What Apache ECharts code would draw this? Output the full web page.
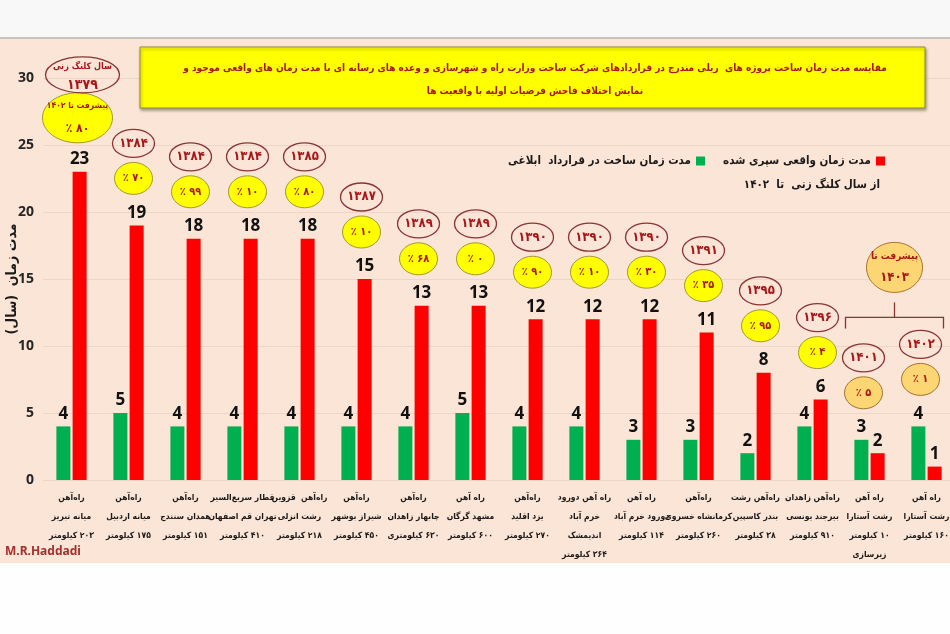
<!DOCTYPE html>
<html>
<head>
<meta charset="utf-8">
<script src="https://cdn.jsdelivr.net/npm/echarts@6/dist/echarts.min.js"></script>
<style>
html,body{margin:0;padding:0;background:#fefefe;}
#c{width:950px;height:634px;}
</style>
</head>
<body>
<div id="c"></div>
<script>
// ---- data ----
const categories = [
  'راه‌آهن\nمیانه تبریز\n۲۰۳ کیلومتر',
  'راه‌آهن\nمیانه اردبیل\n۱۷۵ کیلومتر',
  'راه‌آهن\nهمدان سنندج\n۱۵۱ کیلومتر',
  'قطار سریع‌السیر\nتهران قم اصفهان\n۴۱۰ کیلومتر',
  'راه‌آهن  قزوین\nرشت انزلی\n۲۱۸ کیلومتر',
  'راه‌آهن\nشیراز بوشهر\n۴۵۰ کیلومتر',
  'راه‌آهن\nچابهار زاهدان\n۶۳۰ کیلومتری',
  'راه آهن\nمشهد گرگان\n۶۰۰ کیلومتر',
  'راه‌آهن\nیزد اقلید\n۲۷۰ کیلومتر',
  'راه آهن دورود\nخرم آباد\nاندیمشک\n۳۶۴ کیلومتر',
  'راه آهن\nدورود خرم آباد\n۱۱۴ کیلومتر',
  'راه‌آهن\nکرمانشاه خسروی\n۲۶۰ کیلومتر',
  'راه‌آهن رشت\nبندر کاسپین\n۳۸ کیلومتر',
  'راه‌آهن زاهدان\nبیرجند یونسی\n۹۱۰ کیلومتر',
  'راه آهن\nرشت آستارا\n۱۰ کیلومتر\nزیرسازی',
  'راه آهن\nرشت آستارا\n۱۶۰ کیلومتر'
];
const contractYears = [4, 5, 4, 4, 4, 4, 4, 5, 4, 4, 3, 3, 2, 4, 3, 4];
const actualYears   = [23, 19, 18, 18, 18, 15, 13, 13, 12, 12, 12, 11, 8, 6, 2, 1];
const startYear = ['۱۳۷۹','۱۳۸۴','۱۳۸۴','۱۳۸۴','۱۳۸۵','۱۳۸۷','۱۳۸۹','۱۳۸۹','۱۳۹۰','۱۳۹۰','۱۳۹۰','۱۳۹۱','۱۳۹۵','۱۳۹۶','۱۴۰۱','۱۴۰۲'];
const progress  = ['۸۰','۷۰','۹۹','۱۰','۸۰','۱۰','۶۸','۰','۹۰','۱۰','۳۰','۳۵','۹۵','۴','۵','۱'];
const firstYearCaption = 'سال کلنگ زنی';
const firstProgressCaption = 'پیشرفت تا ۱۴۰۲';
const group1403 = [14, 15];
const group1403Caption = ['پیشرفت تا', '۱۴۰۳'];
const yTicks = {min: 0, max: 30, interval: 5};

const titleLines = [
  'مقایسه مدت زمان ساخت پروژه های  ریلی مندرج در قراردادهای شرکت ساخت وزارت راه و شهرسازی و وعده های رسانه ای با مدت زمان های واقعی موجود و',
  'نمایش اختلاف فاحش فرضیات اولیه با واقعیت ها'
];
const seriesNames = ['مدت زمان ساخت در قرارداد  ابلاغی', 'مدت زمان واقعی سپری شده'];
const legendSecondLine = 'از سال کلنگ زنی  تا  ۱۴۰۲';
const yName = 'مدت زمان  (سال)';
const credit = 'M.R.Haddadi';

// ---- chart ----
const FA = "'DejaVu Sans Condensed', 'DejaVu Sans', sans-serif";
const NUM = "'Noto Sans', 'Open Sans', sans-serif";
const darkRed = '#a8161a';
// right-to-left embedding for each line of Persian text
const rtl = s => s.split('\n').map(l => '\u202B' + l + '\u202C').join('\n');

const annData = categories.map((c, i) => [i, Math.max(contractYears[i], actualYears[i])]);

function renderAnn(params, api) {
  const i = api.value(0);
  const v = api.value(1);
  const p = api.coord([i, v]);
  const redTaller = actualYears[i] >= contractYears[i];
  const cx = p[0] + (redTaller ? 5 : -6);
  const in1403 = group1403.indexOf(i) >= 0;
  const pFill = in1403 ? '#fcd672' : '#ffff00';
  const pStroke = in1403 ? '#a8702e' : '#9d9a33';
  let yc, yr, pc, pr;
  const texts = [];
  if (i === 0) {
    yc = [cx + 6, p[1] - 97]; yr = [37, 18];
    pc = [cx + 1, p[1] - 54]; pr = [35, 25];
    texts.push([yc[0], yc[1] - 8, rtl(firstYearCaption), 'bold 9px ' + FA]);
    texts.push([yc[0], yc[1] + 11, startYear[i], 'bold 14px ' + FA]);
    texts.push([pc[0], pc[1] - 12, rtl(firstProgressCaption), 'bold 8.5px ' + FA]);
    texts.push([pc[0], pc[1] + 11, '٪ ' + progress[i], 'bold 12px ' + FA]);
  } else {
    yc = [cx, p[1] - 82]; yr = [21, 14];
    pc = [cx, p[1] - 47]; pr = [19, 16];
    texts.push([yc[0], yc[1], startYear[i], 'bold 13px ' + FA]);
    texts.push([pc[0], pc[1], '٪ ' + progress[i], 'bold 11px ' + FA]);
  }
  const children = [
    {type: 'ellipse', shape: {cx: pc[0], cy: pc[1], rx: pr[0], ry: pr[1]}, style: {fill: pFill, stroke: pStroke, lineWidth: 1}},
    {type: 'ellipse', shape: {cx: yc[0], cy: yc[1], rx: yr[0], ry: yr[1]}, style: {fill: 'rgba(0,0,0,0)', stroke: '#8a3434', lineWidth: 1.3}}
  ];
  texts.forEach(t => children.push({
    type: 'text', x: t[0], y: t[1],
    style: {text: t[2], font: t[3], fill: darkRed, textAlign: 'center', align: 'center', textVerticalAlign: 'middle', verticalAlign: 'middle'}
  }));
  return {type: 'group', children: children};
}

const chart = echarts.init(document.getElementById('c'));
const option = {
  backgroundColor: '#fbe5d6',
  animation: false,
  grid: {left: 43, width: 912, top: 78, height: 402, containLabel: false, outerBoundsMode: 'none'},
  legend: [
    {
      data: [seriesNames[1]], right: 60, top: 150, align: 'right',
      itemWidth: 9, itemHeight: 9, icon: 'rect',
      textStyle: {fontFamily: FA, fontWeight: 'bold', fontSize: 11.5, color: '#1a1a1a'}
    },
    {
      data: [seriesNames[0]], right: 240, top: 150, align: 'right',
      itemWidth: 9, itemHeight: 9, icon: 'rect',
      textStyle: {fontFamily: FA, fontWeight: 'bold', fontSize: 11.5, color: '#1a1a1a'}
    }
  ],
  xAxis: {
    type: 'category',
    data: categories,
    axisLine: {show: false},
    axisTick: {show: false},
    axisLabel: {
      interval: 0, margin: 8, fontFamily: FA, fontWeight: 'bold', fontSize: 8.5,
      lineHeight: 19, color: '#1a1a1a', hideOverlap: false,
      formatter: v => rtl(v)
    }
  },
  yAxis: {
    type: 'value',
    min: yTicks.min, max: yTicks.max, interval: yTicks.interval,
    name: rtl(yName), nameLocation: 'middle', nameRotate: 90, nameGap: 24, nameMoveOverlap: false,
    nameTextStyle: {fontFamily: FA, fontWeight: 'bold', fontSize: 14, color: '#1a1a1a'},
    axisLine: {show: false},
    axisTick: {show: false},
    axisLabel: {margin: 9, fontFamily: NUM, fontWeight: 'bold', fontSize: 14, color: '#262626'},
    splitLine: {lineStyle: {color: '#ecd6c8', width: 1}}
  },
  series: [
    {
      name: seriesNames[0], type: 'bar', data: contractYears,
      barWidth: 14, barGap: '16%',
      itemStyle: {color: '#00b050'},
      label: {show: true, position: 'top', distance: 4, fontFamily: NUM, fontWeight: 'bold', fontSize: 17, color: '#111'}
    },
    {
      name: seriesNames[1], type: 'bar', data: actualYears,
      barWidth: 14,
      itemStyle: {color: '#ff0000'},
      label: {show: true, position: 'top', distance: 4, fontFamily: NUM, fontWeight: 'bold', fontSize: 17, color: '#111'}
    },
    {
      name: 'ann', type: 'custom', data: annData, renderItem: renderAnn, z: 5,
      silent: true
    }
  ],
  graphic: [
    {type: 'rect', shape: {x: 0, y: 0, width: 950, height: 38}, style: {fill: '#f8f8f8'}, silent: true},
    {type: 'line', shape: {x1: 0, y1: 38, x2: 950, y2: 38}, style: {stroke: '#b9b3b0', lineWidth: 1.5}, silent: true},
    {type: 'rect', shape: {x: 0, y: 563, width: 950, height: 71}, style: {fill: '#fefefe'}, silent: true},
    {
      type: 'rect', z: 10,
      shape: {x: 140, y: 47, width: 785, height: 61},
      style: {fill: '#ffff00', stroke: '#8f8b45', lineWidth: 1, shadowBlur: 3, shadowOffsetX: 1, shadowOffsetY: 2, shadowColor: 'rgba(0,0,0,0.35)'}
    },
    {
      type: 'text', z: 11, x: 535, y: 68,
      style: {
        text: rtl(titleLines[0]), font: 'bold 10px ' + FA, fill: darkRed,
        textAlign: 'center', align: 'center', textVerticalAlign: 'middle', verticalAlign: 'middle'
      }
    },
    {
      type: 'text', z: 11, x: 535, y: 91,
      style: {
        text: rtl(titleLines[1]), font: 'bold 10px ' + FA, fill: darkRed,
        textAlign: 'center', align: 'center', textVerticalAlign: 'middle', verticalAlign: 'middle'
      }
    },
    {
      type: 'text', x: 880, y: 185,
      style: {
        text: rtl(legendSecondLine), font: 'bold 11.5px ' + FA, fill: '#1a1a1a',
        textAlign: 'right', align: 'right', textVerticalAlign: 'middle', verticalAlign: 'middle'
      }
    },
    {
      type: 'text', x: 5, y: 552,
      style: {
        text: credit, font: 'bold 12px ' + NUM, fill: '#a3302f',
        textAlign: 'left', align: 'left', textVerticalAlign: 'middle', verticalAlign: 'middle'
      }
    }
  ]
};
chart.setOption(option);

// bracket + circle over the 1403 group, positioned from the axes
const gA = chart.convertToPixel({xAxisIndex: 0, yAxisIndex: 0}, [group1403[0], 0]);
const gB = chart.convertToPixel({xAxisIndex: 0, yAxisIndex: 0}, [group1403[group1403.length - 1], 0]);
const gMax = Math.max.apply(null, group1403.map(i => Math.max(contractYears[i], actualYears[i])));
const baseY = chart.convertToPixel({yAxisIndex: 0}, gMax);
const left = gA[0] - 24, right = gB[0] + 17, mid = (left + right) / 2;
const topY = baseY - 109;
chart.setOption({
  graphic: option.graphic.concat([
    {
      type: 'polyline', z: 6,
      shape: {points: [[left, topY + 11], [left, topY], [right, topY], [right, topY + 11]]},
      style: {stroke: '#8a3434', lineWidth: 1.3, fill: null}
    },
    {
      type: 'line', z: 6,
      shape: {x1: mid, y1: topY, x2: mid, y2: topY - 15},
      style: {stroke: '#8a3434', lineWidth: 1.3}
    },
    {
      type: 'ellipse', z: 6,
      shape: {cx: mid, cy: topY - 50, rx: 28, ry: 25},
      style: {fill: '#fcd672', stroke: '#a8702e', lineWidth: 1}
    },
    {
      type: 'text', z: 7, x: mid, y: topY - 61,
      style: {text: rtl(group1403Caption[0]), font: 'bold 10px ' + FA, fill: darkRed, textAlign: 'center', align: 'center', textVerticalAlign: 'middle', verticalAlign: 'middle'}
    },
    {
      type: 'text', z: 7, x: mid, y: topY - 40,
      style: {text: group1403Caption[1], font: 'bold 13px ' + FA, fill: darkRed, textAlign: 'center', align: 'center', textVerticalAlign: 'middle', verticalAlign: 'middle'}
    }
  ])
});
</script>
</body>
</html>
